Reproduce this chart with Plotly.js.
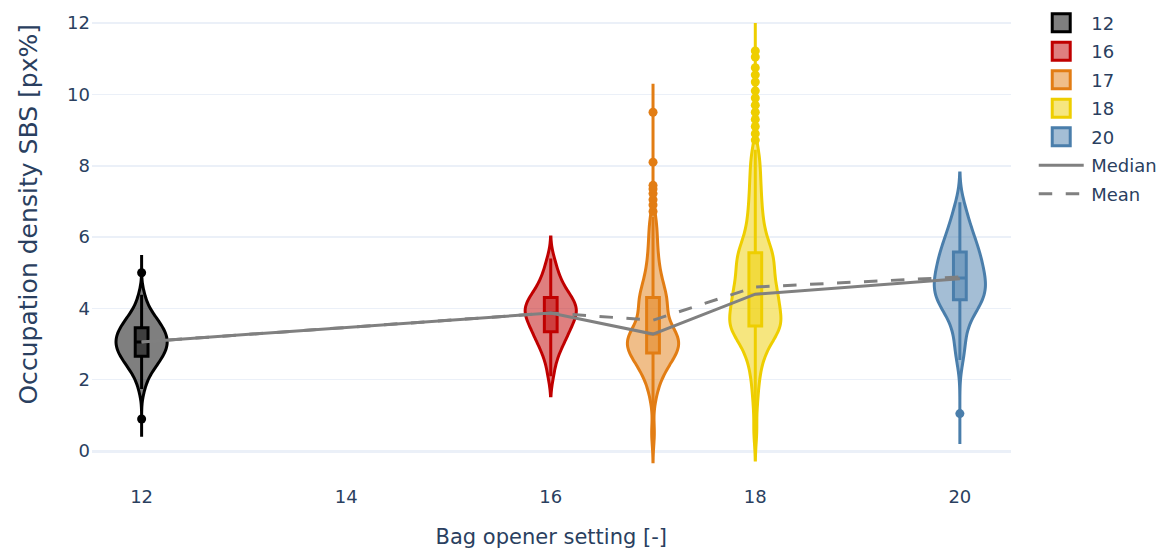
<!DOCTYPE html>
<html>
<head>
<meta charset="utf-8">
<script src="https://cdn.plot.ly/plotly-3.0.1.min.js"></script>
<style>
  html, body { margin: 0; padding: 0; background: #fff; }
  #outer { width: 1159px; height: 553px; overflow: hidden; position: relative; }
  #wrap { position: absolute; left: 0; top: 0; width: 790px; height: 406px; transform: translateY(-55px) scale(1.5); transform-origin: 0 0; }
</style>
</head>
<body>
<div id="outer"><div id="wrap"><div id="chart" style="width:790px;height:406px;"></div></div></div>
<script>
// Bag opener settings (x positions / legend names)
const categories = [12, 16, 17, 18, 20];

// Occupation density samples per setting [px%] (body of each distribution)
const samples12 = [1.74, 2.01, 2.16, 2.26, 2.35, 2.42, 2.48, 2.53, 2.59, 2.64, 2.68, 2.73, 2.77, 2.81,
  2.85, 2.89, 2.93, 2.97, 3.01, 3.04, 3.08, 3.11, 3.15, 3.19, 3.23, 3.27, 3.31, 3.35, 3.39, 3.44, 3.48,
  3.53, 3.59, 3.64, 3.70, 3.76, 3.86, 3.96, 4.11, 4.38];
const samples16 = [2.10, 2.45, 2.65, 2.80, 2.92, 3.02, 3.10, 3.18, 3.25, 3.31,
  3.38, 3.44, 3.50, 3.56, 3.61, 3.66, 3.71, 3.76, 3.81, 3.85,
  3.89, 3.93, 3.97, 4.01, 4.05, 4.09, 4.13, 4.18, 4.23, 4.28,
  4.33, 4.39, 4.46, 4.54, 4.62, 4.72, 4.84, 4.98, 5.15, 5.40];
const samples17 = [0.50, 1.45, 1.75, 1.95, 2.08, 2.18, 2.27, 2.35, 2.42, 2.49, 2.55, 2.60, 2.65, 2.69, 2.73,
  2.77, 2.81, 2.85, 2.89, 2.93, 2.96, 3.00, 3.03, 3.07, 3.10, 3.14, 3.17, 3.21, 3.24, 3.27,
  3.29, 3.34, 3.40, 3.46, 3.53, 3.60, 3.68, 3.76, 3.84, 3.92, 4.00, 4.07, 4.14, 4.21, 4.28,
  4.33, 4.40, 4.48, 4.57, 4.67, 4.78, 4.90, 5.04, 5.20, 5.38, 5.58, 5.80, 6.05, 6.30, 6.58];
const samples18 = [0.55, 1.30, 1.75, 2.05, 2.30, 2.48, 2.63, 2.76, 2.87, 2.96, 3.04, 3.11, 3.18, 3.24, 3.29,
  3.34, 3.38, 3.42, 3.46, 3.49,
  3.52, 3.56, 3.60, 3.64, 3.68, 3.72, 3.76, 3.80, 3.85, 3.90, 3.95, 4.00, 4.05, 4.10, 4.15, 4.20,
  4.25, 4.30, 4.35, 4.39,
  4.41, 4.46, 4.52, 4.58, 4.64, 4.70, 4.76, 4.82, 4.88, 4.94, 5.00, 5.06, 5.12, 5.18, 5.24, 5.30,
  5.36, 5.42, 5.48, 5.54,
  5.58, 5.64, 5.71, 5.79, 5.88, 5.98, 6.09, 6.21, 6.34, 6.48, 6.63, 6.79, 6.96, 7.14, 7.33, 7.53,
  7.74, 7.96, 8.20, 8.45];
const samples20 = [2.55, 2.85, 3.05, 3.35, 3.55, 3.70, 3.82, 3.92, 4.01, 4.08, 4.14, 4.19, 4.24,
  4.28, 4.33, 4.38, 4.43, 4.48, 4.53, 4.58, 4.63, 4.68, 4.73, 4.78, 4.83,
  4.87, 4.92, 4.98, 5.04, 5.10, 5.16, 5.22, 5.28, 5.34, 5.40, 5.46, 5.52,
  5.58, 5.65, 5.72, 5.80, 5.88, 5.97, 6.06, 6.16, 6.27, 6.40, 6.55, 6.75, 6.98];

// Outlier points per setting [px%]
const outliers12 = [0.90, 5.00];
const outliers16 = [];
const outliers17 = [6.72, 6.90, 7.05, 7.22, 7.35, 7.45, 8.10, 9.50];
const outliers18 = [8.72, 8.90, 9.10, 9.30, 9.50, 9.70, 9.90, 10.10, 10.35, 10.55, 10.75, 11.05, 11.22];
const outliers20 = [1.05];

// Summary lines
const medianVals = [3.06, 3.87, 3.28, 4.40, 4.83];
const meanVals = [3.06, 3.87, 3.67, 4.60, 4.88];

// Styling
const sampleSets = [samples12, samples16, samples17, samples18, samples20];
const outlierSets = [outliers12, outliers16, outliers17, outliers18, outliers20];
const lineColors = ['rgb(0,0,0)', 'rgb(192,0,0)', 'rgb(226,125,20)', 'rgb(238,206,0)', 'rgb(74,126,171)'];
const fillColors = ['rgba(0,0,0,0.5)', 'rgba(192,0,0,0.5)', 'rgba(226,125,20,0.5)', 'rgba(238,206,0,0.5)', 'rgba(74,126,171,0.5)'];
const bandwidths = [0.25, 0.28, 0.33, 0.35, 0.38];
const spans = [[0.4, 5.5], [1.55, 6.0], [-0.3, 10.3], [-0.25, 12.0], [0.2, 7.8]];

const traces = categories.map((c, i) => ({
  type: 'violin',
  name: String(c),
  x0: c,
  y: sampleSets[i],
  width: 0.5,
  bandwidth: bandwidths[i],
  spanmode: 'manual',
  span: spans[i],
  scalemode: 'width',
  points: false,
  line: { color: lineColors[i], width: 2 },
  fillcolor: fillColors[i],
  box: { visible: true, width: 0.25, fillcolor: fillColors[i], line: { color: lineColors[i], width: 2 } },
  meanline: { visible: false },
  hoverinfo: 'skip'
}));

categories.forEach((c, i) => {
  if (!outlierSets[i].length) return;
  traces.push({
    type: 'scatter', mode: 'markers', name: String(c) + ' outliers', showlegend: false,
    x: outlierSets[i].map(() => c), y: outlierSets[i],
    marker: { color: lineColors[i], size: 6 }, hoverinfo: 'skip'
  });
});

traces.push({
  type: 'scatter', mode: 'lines', name: 'Median',
  x: categories, y: medianVals,
  line: { color: 'rgb(128,128,128)', width: 2 }
});
traces.push({
  type: 'scatter', mode: 'lines', name: 'Mean',
  x: categories, y: meanVals,
  line: { color: 'rgb(128,128,128)', width: 2, dash: 'dash' }
});

const fontFam = 'Verdana, "DejaVu Sans", sans-serif';
const layout = {
  width: 790, height: 406,
  margin: { l: 61, r: 116, t: 0, b: 47, pad: 0 },
  paper_bgcolor: '#fff', plot_bgcolor: '#fff',
  font: { family: fontFam, size: 12, color: '#2a3f5f' },
  violinmode: 'overlay',
  showlegend: true,
  legend: { x: 1.022, y: 0.896, yanchor: 'top', font: { size: 12, color: '#2a3f5f' } },
  xaxis: {
    range: [11.51, 20.5], tick0: 12, dtick: 2,
    showgrid: false, zeroline: false, showline: false, ticks: '',
    title: { text: 'Bag opener setting [-]', font: { size: 14 }, standoff: 15 }
  },
  yaxis: {
    range: [-0.91, 14.19], tick0: 0, dtick: 2,
    showgrid: true, gridcolor: '#EBF0F8', gridwidth: 1,
    zeroline: true, zerolinecolor: '#EBF0F8', zerolinewidth: 2,
    showline: false, ticks: '',
    title: { text: 'Occupation density SBS [px%]', font: { size: 16.7 }, standoff: 15 }
  }
};

Plotly.newPlot('chart', traces, layout, { displayModeBar: false, staticPlot: true });
</script>
</body>
</html>
